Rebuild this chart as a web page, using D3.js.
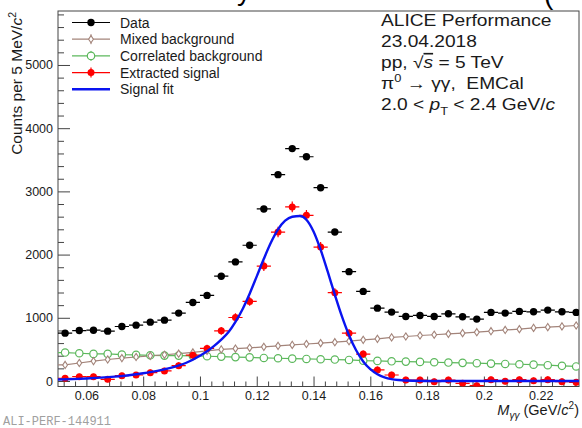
<!DOCTYPE html>
<html>
<head>
<meta charset="utf-8">
<script src="https://cdn.jsdelivr.net/npm/d3@7"></script>
<style>
  html, body { margin: 0; padding: 0; background: #fff; }
  svg { display: block; font-family: "Liberation Sans", Arial, Helvetica, sans-serif; }
  text { white-space: pre; }
</style>
</head>
<body>
<svg id="chart" width="582" height="428"></svg>
<script>
// Invariant-mass bins (centres, GeV/c^2), 5 MeV wide
const massBins = [0.0525, 0.0575, 0.0625, 0.0675, 0.0725, 0.0775, 0.0825, 0.0875, 0.0925, 0.0975,
                  0.1025, 0.1075, 0.1125, 0.1175, 0.1225, 0.1275, 0.1325, 0.1375, 0.1425, 0.1475,
                  0.1525, 0.1575, 0.1625, 0.1675, 0.1725, 0.1775, 0.1825, 0.1875, 0.1925, 0.1975,
                  0.2025, 0.2075, 0.2125, 0.2175, 0.2225, 0.2275, 0.2325];
const binWidth = 0.005;

// Same-event pair counts
const dataCounts = [757, 798, 804, 789, 862, 884, 931, 963, 1074, 1243,
                    1354, 1658, 1884, 2148, 2722, 3265, 3677, 3548, 3058, 2357,
                    1730, 1418, 1153, 1090, 1021, 1037, 1021, 1063, 1016, 979,
                    1085, 1074, 1101, 1095, 1122, 1095, 1085];

// Scaled mixed-event background
const mixedBackground = [254, 285, 315, 340, 362, 380, 398, 415, 432, 452,
                         478, 500, 513, 525, 540, 556, 571, 585, 600, 614,
                         630, 651, 667, 690, 704, 720, 732, 746, 757, 772,
                         788, 808, 820, 840, 852, 864, 878];

// Residual correlated background
const correlatedBackground = [450, 439, 429, 429, 418, 413, 407, 402, 402, 397,
                              392, 386, 378, 374, 365, 360, 354, 349, 344, 339,
                              333, 322, 318, 312, 307, 302, 297, 292, 287, 282,
                              275, 270, 265, 259, 250, 240, 230];

// Background-subtracted signal and its statistical uncertainty
const extractedSignal = [43, 68, 68, 27, 84, 95, 132, 159, 243, 408,
                         516, 794, 1005, 1259, 1818, 2357, 2754, 2622, 2119, 1397,
                         757, 426, 175, 95, 16, 16, -11, 16, -37, -74,
                         21, -5, 21, 5, 21, -11, -21];
const signalErrors = [45, 46, 46, 46, 47, 48, 49, 50, 52, 55,
                      58, 62, 66, 70, 76, 82, 86, 85, 80, 72,
                      64, 58, 54, 52, 51, 51, 51, 52, 51, 51,
                      52, 52, 52, 52, 53, 53, 53];

// Peak fit (Gaussian core with low-mass exponential tail), sampled
const fitMass = [0.050, 0.055, 0.060, 0.065, 0.070, 0.075, 0.080, 0.085, 0.090, 0.095,
                 0.100, 0.1025, 0.105, 0.1075, 0.110, 0.1125, 0.115, 0.1175, 0.120, 0.1225,
                 0.125, 0.1275, 0.130, 0.1325, 0.1352, 0.1375, 0.140, 0.1425, 0.145, 0.1475,
                 0.150, 0.1525, 0.155, 0.1575, 0.160, 0.1625, 0.165, 0.1675, 0.170, 0.175,
                 0.180, 0.190, 0.200, 0.210, 0.220, 0.2335];
const fitCounts = [23, 30, 40, 53, 70, 92, 122, 160, 212, 285,
                   400, 470, 555, 655, 770, 935, 1136, 1381, 1655, 1933,
                   2191, 2399, 2536, 2599, 2610, 2552, 2365, 2077, 1729, 1365,
                   1021, 724, 486, 310, 187, 107, 58, 30, 15, 3,
                   1, 0, 0, 0, 0, 0];

const xTickValues = [0.06, 0.08, 0.10, 0.12, 0.14, 0.16, 0.18, 0.20, 0.22];
const xTickLabels = ["0.06", "0.08", "0.1", "0.12", "0.14", "0.16", "0.18", "0.2", "0.22"];
const yTickValues = [0, 1000, 2000, 3000, 4000, 5000];

const legendLabels = ["Data", "Mixed background", "Correlated background", "Extracted signal", "Signal fit"];

// ---------------------------------------------------------------
const svg = d3.select("#chart");
const W = 582, H = 428;
const plot = { left: 58, right: 579, top: 11, bottom: 386.5 };

const colors = {
  data: "#000000",
  mixed: "#a3847a",
  corr: "#5cb85c",
  signal: "#ff0000",
  fit: "#0a14f0",
  axis: "#444444",
  text: "#1a1a1a"
};

const x = d3.scaleLinear().domain([0.05, 0.2335]).range([plot.left, plot.right]);
const y = d3.scaleLinear().domain([-87, 5854]).range([plot.bottom, plot.top]);

svg.append("rect").attr("width", W).attr("height", H).attr("fill", "#fff");

// Clipped-off header glyphs along the top edge
const header = svg.append("g").attr("font-size", 28).attr("fill", "#000");
header.append("text").attr("x", 237).attr("y", 0).text("y");
header.append("text").attr("x", 544).attr("y", 4).text("(");

// Axes ---------------------------------------------------------------
const fontTick = 12.5;

const xMinor = d3.range(0.052, 0.2335, 0.004).filter(v => xTickValues.every(t => Math.abs(t - v) > 1e-6));
const yMinor = d3.range(200, 5854, 200).filter(v => v % 1000 !== 0);

const gx = svg.append("g").attr("transform", `translate(0,${plot.bottom})`);
gx.call(d3.axisBottom(x).tickValues(xTickValues).tickSize(-10).tickPadding(5)
          .tickFormat((d, i) => xTickLabels[i]));
const gxm = svg.append("g").attr("transform", `translate(0,${plot.bottom})`);
gxm.call(d3.axisBottom(x).tickValues(xMinor).tickSize(-5).tickFormat(""));

const gy = svg.append("g").attr("transform", `translate(${plot.left},0)`);
gy.call(d3.axisLeft(y).tickValues(yTickValues).tickSize(-12).tickPadding(5).tickFormat(d3.format("d")));
const gym = svg.append("g").attr("transform", `translate(${plot.left},0)`);
gym.call(d3.axisLeft(y).tickValues(yMinor).tickSize(-6).tickFormat(""));

[gx, gxm, gy, gym].forEach(g => {
  g.select(".domain").remove();
  g.selectAll(".tick line").attr("stroke", colors.axis).attr("stroke-width", 1);
  g.selectAll(".tick text").attr("fill", colors.text).attr("font-size", fontTick)
    .attr("font-family", '"Liberation Sans", Arial, sans-serif');
});
gx.selectAll(".tick text").attr("dy", "0.71em");

svg.append("rect")
  .attr("x", plot.left).attr("y", plot.top)
  .attr("width", plot.right - plot.left).attr("height", plot.bottom - plot.top)
  .attr("fill", "none").attr("stroke", colors.axis).attr("stroke-width", 1);

// Axis titles
const yTitle = svg.append("text")
  .attr("transform", `translate(22,${plot.top + 1}) rotate(-90)`)
  .attr("text-anchor", "end").attr("font-size", 15.5).attr("fill", colors.text);
yTitle.append("tspan").text("Counts per 5 MeV/");
yTitle.append("tspan").attr("font-style", "italic").text("c");
yTitle.append("tspan").attr("font-size", 10.5).attr("dy", -6).text("2");

const xTitle = svg.append("text")
  .attr("x", plot.right).attr("y", 415)
  .attr("text-anchor", "end").attr("font-size", 14.5).attr("fill", colors.text);
xTitle.append("tspan").attr("font-style", "italic").text("M");
xTitle.append("tspan").attr("font-style", "italic").attr("font-size", 10).attr("dy", 4).text("γγ");
xTitle.append("tspan").attr("dy", -4).text(" (GeV/");
xTitle.append("tspan").attr("font-style", "italic").text("c");
xTitle.append("tspan").attr("font-size", 10).attr("dy", -6).text("2");
xTitle.append("tspan").attr("dy", 6).text(")");

// Plot content ---------------------------------------------------------
const defs = svg.append("defs");
defs.append("clipPath").attr("id", "frameClip")
  .append("rect").attr("x", plot.left).attr("y", plot.top)
  .attr("width", plot.right - plot.left).attr("height", plot.bottom - plot.top);
const content = svg.append("g").attr("clip-path", "url(#frameClip)");

const bins = massBins.map((m, i) => ({
  m,
  data: dataCounts[i],
  mixed: mixedBackground[i],
  corr: correlatedBackground[i],
  sig: extractedSignal[i],
  err: signalErrors[i]
}));

// Backgrounds drawn as connected markers spanning the bin edges
function bandLine(key) {
  const pts = [[massBins[0] - binWidth / 2, bins[0][key]]]
    .concat(bins.map(b => [b.m, b[key]]))
    .concat([[massBins[massBins.length - 1] + binWidth / 2, bins[bins.length - 1][key]]]);
  return d3.line().x(d => x(d[0])).y(d => y(d[1]))(pts);
}

content.append("path").attr("d", bandLine("corr"))
  .attr("fill", "none").attr("stroke", colors.corr).attr("stroke-width", 1.2);
content.append("path").attr("d", bandLine("mixed"))
  .attr("fill", "none").attr("stroke", colors.mixed).attr("stroke-width", 1.2);

const diamond = (cx, cy) => `M${cx},${cy - 3.6}L${cx + 2.4},${cy}L${cx},${cy + 3.6}L${cx - 2.4},${cy}Z`;

content.append("g").selectAll("circle").data(bins).join("circle")
  .attr("cx", d => x(d.m)).attr("cy", d => y(d.corr)).attr("r", 3.7)
  .attr("fill", "#fff").attr("stroke", colors.corr).attr("stroke-width", 1.2);

content.append("g").selectAll("path").data(bins).join("path")
  .attr("d", d => diamond(x(d.m), y(d.mixed)))
  .attr("fill", "#fff").attr("stroke", colors.mixed).attr("stroke-width", 1.1);

// Data points with bin-width bars
const gData = content.append("g");
gData.selectAll("line").data(bins).join("line")
  .attr("x1", d => x(d.m - binWidth / 2)).attr("x2", d => x(d.m + binWidth / 2))
  .attr("y1", d => y(d.data)).attr("y2", d => y(d.data))
  .attr("stroke", colors.data).attr("stroke-width", 1.2);
gData.selectAll("circle").data(bins).join("circle")
  .attr("cx", d => x(d.m)).attr("cy", d => y(d.data)).attr("r", 3.7)
  .attr("fill", colors.data);

// Extracted signal with error bars
const gSig = content.append("g");
gSig.selectAll("line.h").data(bins).join("line").attr("class", "h")
  .attr("x1", d => x(d.m - binWidth / 2)).attr("x2", d => x(d.m + binWidth / 2))
  .attr("y1", d => y(d.sig)).attr("y2", d => y(d.sig))
  .attr("stroke", colors.signal).attr("stroke-width", 1.2);
gSig.selectAll("line.v").data(bins).join("line").attr("class", "v")
  .attr("x1", d => x(d.m)).attr("x2", d => x(d.m))
  .attr("y1", d => y(d.sig - d.err)).attr("y2", d => y(d.sig + d.err))
  .attr("stroke", colors.signal).attr("stroke-width", 1.2);
gSig.selectAll("circle").data(bins).join("circle")
  .attr("cx", d => x(d.m)).attr("cy", d => y(d.sig)).attr("r", 3.5)
  .attr("fill", colors.signal);

// Signal fit
const fitPoints = fitMass.map((m, i) => [m, fitCounts[i]]);
content.append("path")
  .attr("d", d3.line().x(d => x(d[0])).y(d => y(d[1])).curve(d3.curveMonotoneX)(fitPoints))
  .attr("fill", "none").attr("stroke", colors.fit).attr("stroke-width", 2.4);

// Legend ---------------------------------------------------------------
const legend = svg.append("g").attr("font-size", 14).attr("fill", colors.text);
const lx0 = 72, lx1 = 110, lmx = 91, ltx = 120, ly0 = 22.5, ldy = 16.7;
const legendKeys = ["data", "mixed", "corr", "signal", "fit"];
legendLabels.forEach((label, i) => {
  const ly = ly0 + i * ldy;
  const key = legendKeys[i];
  const row = legend.append("g");
  row.append("line").attr("x1", lx0).attr("x2", lx1).attr("y1", ly).attr("y2", ly)
    .attr("stroke", colors[key]).attr("stroke-width", key === "fit" ? 2.6 : 1.2);
  if (key === "data") {
    row.append("circle").attr("cx", lmx).attr("cy", ly).attr("r", 3.7).attr("fill", colors.data);
  } else if (key === "mixed") {
    row.append("line").attr("x1", lmx).attr("x2", lmx).attr("y1", ly - 5).attr("y2", ly + 5)
      .attr("stroke", colors.mixed).attr("stroke-width", 1);
    row.append("path").attr("d", diamond(lmx, ly)).attr("fill", "#fff")
      .attr("stroke", colors.mixed).attr("stroke-width", 1.1);
  } else if (key === "corr") {
    row.append("line").attr("x1", lmx).attr("x2", lmx).attr("y1", ly - 5).attr("y2", ly + 5)
      .attr("stroke", colors.corr).attr("stroke-width", 1);
    row.append("circle").attr("cx", lmx).attr("cy", ly).attr("r", 3.7).attr("fill", "#fff")
      .attr("stroke", colors.corr).attr("stroke-width", 1.2);
  } else if (key === "signal") {
    row.append("line").attr("x1", lmx).attr("x2", lmx).attr("y1", ly - 5).attr("y2", ly + 5)
      .attr("stroke", colors.signal).attr("stroke-width", 1.2);
    row.append("circle").attr("cx", lmx).attr("cy", ly).attr("r", 3.5).attr("fill", colors.signal);
  }
  row.append("text").attr("x", ltx).attr("y", ly).attr("dy", "0.36em").text(label);
});

// Info block (slightly wide lettering) ------------------------------------
const ix = 381, iy0 = 26.5, idy = 21;
const info = svg.append("g")
  .attr("transform", `translate(${ix},0) scale(1.17,1)`)
  .attr("font-size", 16.4).attr("fill", colors.text);
info.append("text").attr("x", 0).attr("y", iy0).text("ALICE Performance");
info.append("text").attr("x", 0).attr("y", iy0 + idy).text("23.04.2018");
const t3 = info.append("text").attr("x", 0).attr("y", iy0 + 2 * idy);
t3.append("tspan").text("pp, √");
t3.append("tspan").attr("font-style", "italic").style("text-decoration", "overline").text("s");
t3.append("tspan").text(" = 5 TeV");
const t4 = info.append("text").attr("x", 0).attr("y", iy0 + 3 * idy);
t4.append("tspan").text("π");
t4.append("tspan").attr("font-size", 11).attr("dy", -7).text("0");
t4.append("tspan").attr("dy", 7).text(" → γγ,  EMCal");
const t5 = info.append("text").attr("x", 0).attr("y", iy0 + 4 * idy);
t5.append("tspan").text("2.0 < ");
t5.append("tspan").attr("font-style", "italic").text("p");
t5.append("tspan").attr("font-size", 11).attr("dy", 5).text("T");
t5.append("tspan").attr("dy", -5).text(" < 2.4 GeV/");
t5.append("tspan").attr("font-style", "italic").text("c");

// Figure identifier
svg.append("text").attr("x", 3).attr("y", 425)
  .attr("font-family", '"Liberation Mono", "DejaVu Sans Mono", monospace')
  .attr("font-size", 12).attr("fill", "#a0a0a0").text("ALI-PERF-144911");
</script>
</body>
</html>
